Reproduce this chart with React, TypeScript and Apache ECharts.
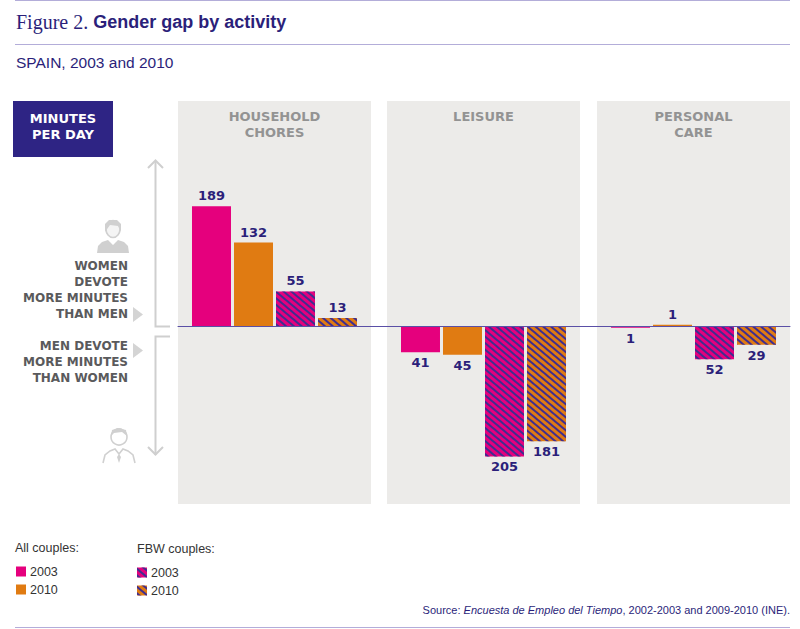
import React, { useEffect, useRef } from "react";
import * as echarts from "echarts";

const activities = ["HOUSEHOLD\nCHORES", "LEISURE", "PERSONAL\nCARE"];
const seriesNames = ["All couples 2003", "All couples 2010", "FBW couples 2003", "FBW couples 2010"];
const allCouples2003 = [189, -41, -1];
const allCouples2010 = [132, -45, 1];
const fbw2003 = [55, -205, -52];
const fbw2010 = [13, -181, -29];

const PINK = "#E5007D";
const ORANGE = "#E07B12";
const NAVY = "#2B1F7A";
const STRIPE = "#3F2D90";
const GREY_LINE = "#CFCFCF";
const RULE = "#B3ADD9";
const BOLD_FONT = "DejaVu Sans";
const TEXT_FONT = "Liberation Sans";

const panelLefts = [178, 387, 597];
const panelWidth = 193;
const gridTop = 101;
const gridHeight = 403;
const yMin = -280;
const yMax = 355;

const hatch = (color: string) => ({
  color,
  decal: {
    symbol: "rect",
    symbolSize: 1,
    color: STRIPE,
    dashArrayX: [1, 0],
    dashArrayY: [1.5, 2.5],
    rotation: Math.PI / 4.5,
  },
});

const seriesDefs = [
  { name: seriesNames[0], data: allCouples2003, itemStyle: { color: PINK } },
  { name: seriesNames[1], data: allCouples2010, itemStyle: { color: ORANGE } },
  { name: seriesNames[2], data: fbw2003, itemStyle: hatch(PINK) },
  { name: seriesNames[3], data: fbw2010, itemStyle: hatch(ORANGE) },
];

export default function App() {
  const ref = useRef<HTMLDivElement>(null);

  useEffect(() => {
    document.body.style.margin = "0";
    if (!ref.current) return;
    const chart = echarts.init(ref.current, undefined, { renderer: "svg" });

    const grids: any[] = panelLefts.map((l) => ({
      left: l,
      top: gridTop,
      width: panelWidth,
      height: gridHeight,
      show: true,
      backgroundColor: "#ECEBE9",
      borderWidth: 0,
    }));
    grids.push({ left: panelLefts[0], top: gridTop, width: 790 - panelLefts[0], height: gridHeight, show: false });

    const xAxes: any[] = activities.map((a, i) => ({
      type: "category",
      gridIndex: i,
      data: [a],
      position: "top",
      axisLine: { show: false, onZero: false },
      axisTick: { show: false },
      splitLine: { show: false },
      axisLabel: {
        inside: true,
        margin: 7,
        fontFamily: BOLD_FONT,
        fontWeight: "bold",
        fontSize: 13,
        lineHeight: 16,
        color: "#939393",
        align: "center",
      },
    }));
    xAxes.push({
      type: "value",
      gridIndex: 3,
      min: 0,
      max: 1,
      axisLine: { show: true, onZero: true, lineStyle: { color: "#5A4FA6", width: 1 } },
      axisTick: { show: false },
      axisLabel: { show: false },
      splitLine: { show: false },
      z: 5,
    });

    const yAxes = [0, 1, 2, 3].map((i) => ({
      type: "value",
      gridIndex: i,
      min: yMin,
      max: yMax,
      show: false,
      splitLine: { show: false },
    }));

    const series: any[] = [];
    activities.forEach((_, i) => {
      seriesDefs.forEach((s) => {
        const v = s.data[i];
        series.push({
          type: "bar",
          name: s.name,
          xAxisIndex: i,
          yAxisIndex: i,
          barWidth: 39,
          barGap: "7.7%",
          barMinHeight: 1.5,
          itemStyle: s.itemStyle,
          data: [{ value: v, label: { position: v < 0 ? "bottom" : "top" } }],
          label: {
            show: true,
            distance: 4,
            formatter: (p: any) => String(Math.abs(p.value)),
            fontFamily: BOLD_FONT,
            fontWeight: "bold",
            fontSize: 13,
            color: NAVY,
          },
          emphasis: { disabled: true },
        });
      });
    });

    const legendCommon = {
      orient: "vertical",
      icon: "rect",
      itemWidth: 10,
      itemHeight: 10,
      itemGap: 5,
      padding: 0,
      selectedMode: false,
      formatter: (n: string) => n.slice(-4),
      textStyle: { fontFamily: TEXT_FONT, fontSize: 12.5, color: "#333333", padding: [0, 0, 0, -1] },
    };

    const txt = (text: string, x: number, y: number, style: any) => ({
      type: "text",
      x,
      y,
      style: { text, ...style },
    });

    const womanBody = [
      [97, 253], [98, 246], [102, 242], [108, 240], [113, 245], [118, 240], [124, 242], [128, 246], [129, 253],
    ];
    const manBody = [
      [103, 463], [105, 455], [110, 451], [115, 449], [119, 454], [123, 449], [128, 451], [133, 455], [135, 463],
    ];

    const graphic: any[] = [
      { type: "line", shape: { x1: 15, y1: 0.5, x2: 790, y2: 0.5 }, style: { stroke: RULE, lineWidth: 1 } },
      { type: "line", shape: { x1: 15, y1: 44.5, x2: 790, y2: 44.5 }, style: { stroke: RULE, lineWidth: 1 } },
      { type: "line", shape: { x1: 15, y1: 627.5, x2: 790, y2: 627.5 }, style: { stroke: RULE, lineWidth: 1 } },
      txt("{a|Figure 2. }{b|Gender gap by activity}", 16, 22, {
        textVerticalAlign: "middle",
        verticalAlign: "middle",
        rich: {
          a: { fontFamily: "Liberation Serif", fontSize: 20, fill: NAVY, color: NAVY },
          b: { fontFamily: TEXT_FONT, fontWeight: "bold", fontSize: 18, fill: NAVY, color: NAVY },
        },
      }),
      txt("SPAIN, 2003 and 2010", 16, 62, {
        fontFamily: TEXT_FONT,
        fontSize: 15.5,
        fill: NAVY,
        textVerticalAlign: "middle",
        verticalAlign: "middle",
      }),
      { type: "rect", shape: { x: 13, y: 101, width: 100, height: 56 }, style: { fill: "#2E2484" } },
      txt("MINUTES\nPER DAY", 63, 126, {
        fontFamily: BOLD_FONT,
        fontWeight: "bold",
        fontSize: 13,
        lineHeight: 16,
        fill: "#FFFFFF",
        textAlign: "center",
        align: "center",
        textVerticalAlign: "middle",
        verticalAlign: "middle",
      }),
      // arrows
      { type: "polyline", shape: { points: [[148, 168], [155.5, 160.5], [163, 168]] }, style: { stroke: GREY_LINE, lineWidth: 2, fill: "none" } },
      { type: "polyline", shape: { points: [[155.5, 161], [155.5, 326.5], [170, 326.5]] }, style: { stroke: GREY_LINE, lineWidth: 2, fill: "none" } },
      { type: "polyline", shape: { points: [[170, 336.5], [155.5, 336.5], [155.5, 455]] }, style: { stroke: GREY_LINE, lineWidth: 2, fill: "none" } },
      { type: "polyline", shape: { points: [[148, 447], [155.5, 454.5], [163, 447]] }, style: { stroke: GREY_LINE, lineWidth: 2, fill: "none" } },
      { type: "polygon", shape: { points: [[133, 307], [143, 314.5], [133, 322]] }, style: { fill: "#D4D4D4" } },
      { type: "polygon", shape: { points: [[133, 343], [143, 350.5], [133, 358]] }, style: { fill: "#D4D4D4" } },
      txt("WOMEN\nDEVOTE\nMORE MINUTES\nTHAN MEN", 128, 290, {
        fontFamily: BOLD_FONT,
        fontWeight: "bold",
        fontSize: 12,
        lineHeight: 16,
        fill: "#5A5A5C",
        textAlign: "right",
        align: "right",
        textVerticalAlign: "middle",
        verticalAlign: "middle",
      }),
      txt("MEN DEVOTE\nMORE MINUTES\nTHAN WOMEN", 128, 362, {
        fontFamily: BOLD_FONT,
        fontWeight: "bold",
        fontSize: 12,
        lineHeight: 16,
        fill: "#5A5A5C",
        textAlign: "right",
        align: "right",
        textVerticalAlign: "middle",
        verticalAlign: "middle",
      }),
      // woman icon
      { type: "ellipse", shape: { cx: 113, cy: 229, rx: 7, ry: 8.5 }, style: { stroke: "#D0D0D0", lineWidth: 1.6, fill: "#F4F4F4" } },
      { type: "polygon", shape: { points: [[105, 232], [105, 224], [109, 220], [117, 220], [121, 224], [121, 232], [118, 226], [110, 225]] }, style: { fill: "#D0D0D0" } },
      { type: "polygon", shape: { points: womanBody }, style: { fill: "#D0D0D0" } },
      // man icon
      { type: "circle", shape: { cx: 119, cy: 437, r: 8 }, style: { stroke: "#D0D0D0", lineWidth: 1.6, fill: "none" } },
      { type: "polygon", shape: { points: [[111, 436], [112, 430], [118, 428], [126, 430], [127, 436], [122, 432], [114, 433]] }, style: { fill: "#D0D0D0" } },
      { type: "polyline", shape: { points: manBody }, style: { stroke: "#D0D0D0", lineWidth: 1.6, fill: "none" } },
      { type: "polygon", shape: { points: [[119, 454], [117, 457], [119, 463], [121, 457]] }, style: { fill: "#D0D0D0" } },
      // legend headers
      txt("All couples:", 15, 548, {
        fontFamily: TEXT_FONT,
        fontSize: 12.5,
        fill: "#333333",
        textVerticalAlign: "middle",
        verticalAlign: "middle",
      }),
      txt("FBW couples:", 137, 549, {
        fontFamily: TEXT_FONT,
        fontSize: 12.5,
        fill: "#333333",
        textVerticalAlign: "middle",
        verticalAlign: "middle",
      }),
      txt("{n|Source: }{i|Encuesta de Empleo del Tiempo}{n|, 2002-2003 and 2009-2010 (INE).}", 790, 610, {
        textAlign: "right",
        align: "right",
        textVerticalAlign: "middle",
        verticalAlign: "middle",
        rich: {
          n: { fontFamily: TEXT_FONT, fontSize: 11, fill: NAVY, color: NAVY },
          i: { fontFamily: TEXT_FONT, fontSize: 11, fontStyle: "italic", fill: NAVY, color: NAVY },
        },
      }),
    ];

    chart.setOption({
      animation: false,
      textStyle: { fontFamily: TEXT_FONT },
      grid: grids,
      xAxis: xAxes,
      yAxis: yAxes,
      legend: [
        { ...legendCommon, left: 16, top: 565, data: [seriesNames[0], seriesNames[1]] },
        { ...legendCommon, left: 137, top: 566, data: [seriesNames[2], seriesNames[3]] },
      ],
      series,
      graphic,
    });

    return () => chart.dispose();
  }, []);

  return <div ref={ref} style={{ width: 800, height: 629 }} />;
}
